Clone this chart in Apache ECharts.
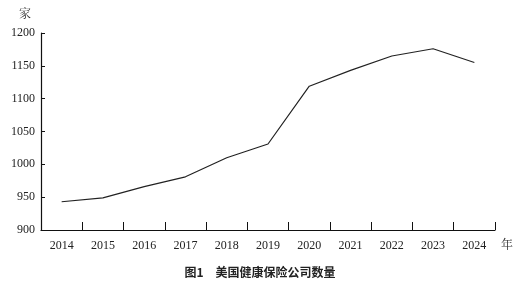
<!DOCTYPE html>
<html><head><meta charset="utf-8">
<script src="https://cdn.jsdelivr.net/npm/echarts@6/dist/echarts.min.js"></script>
<style>html,body{margin:0;padding:0;background:#fff}#c{width:520px;height:288px}</style>
</head><body><div id="c"></div>
<script>
const years = ['2014','2015','2016','2017','2018','2019','2020','2021','2022','2023','2024'];
const companies = [943, 949, 966, 981, 1010, 1031, 1119, 1143, 1165, 1176, 1155];
const yTicks = [900, 950, 1000, 1050, 1100, 1150, 1200];
const titleText = '图1　美国健康保险公司数量';
const yUnit = '家';
const xUnit = '年';

const chart = echarts.init(document.getElementById('c'), null, {renderer:'canvas'});
const serif = 'Liberation Serif';
chart.setOption({
  animation:false,
  backgroundColor:'#fff',
  title:{text:titleText,left:'center',top:261,
    textStyle:{fontSize:12,fontWeight:'bold',color:'#222',fontFamily:'Noto Sans CJK SC'}},
  grid:{left:41,right:25,top:33,bottom:58},
  xAxis:{type:'category',data:years,boundaryGap:true,
    name:xUnit,nameLocation:'end',nameGap:6,
    nameTextStyle:{fontSize:12,color:'#333',fontFamily:'Noto Serif CJK SC',verticalAlign:'top',padding:[8,0,0,0]},
    axisLine:{lineStyle:{color:'#111',width:1.2}},
    axisTick:{show:true,inside:true,length:8,alignWithLabel:false,lineStyle:{color:'#111',width:1}},
    axisLabel:{fontSize:12,color:'#222',fontFamily:serif,margin:10}},
  yAxis:{type:'value',min:yTicks[0],max:yTicks[yTicks.length-1],interval:50,
    name:yUnit,nameLocation:'end',nameGap:14,
    nameTextStyle:{fontSize:12,color:'#333',fontFamily:'Noto Serif CJK SC',align:'right',padding:[0,10,0,0]},
    axisLine:{show:true,lineStyle:{color:'#111',width:1.2}},
    axisTick:{show:true,inside:true,length:4,lineStyle:{color:'#111'}},
    splitLine:{show:false},
    axisLabel:{fontSize:12,color:'#222',fontFamily:serif,margin:6,formatter:function(v){return String(v);}}},
  series:[{type:'line',data:companies,symbol:'none',
    lineStyle:{color:'#222',width:1.2}}]
});
</script></body></html>
